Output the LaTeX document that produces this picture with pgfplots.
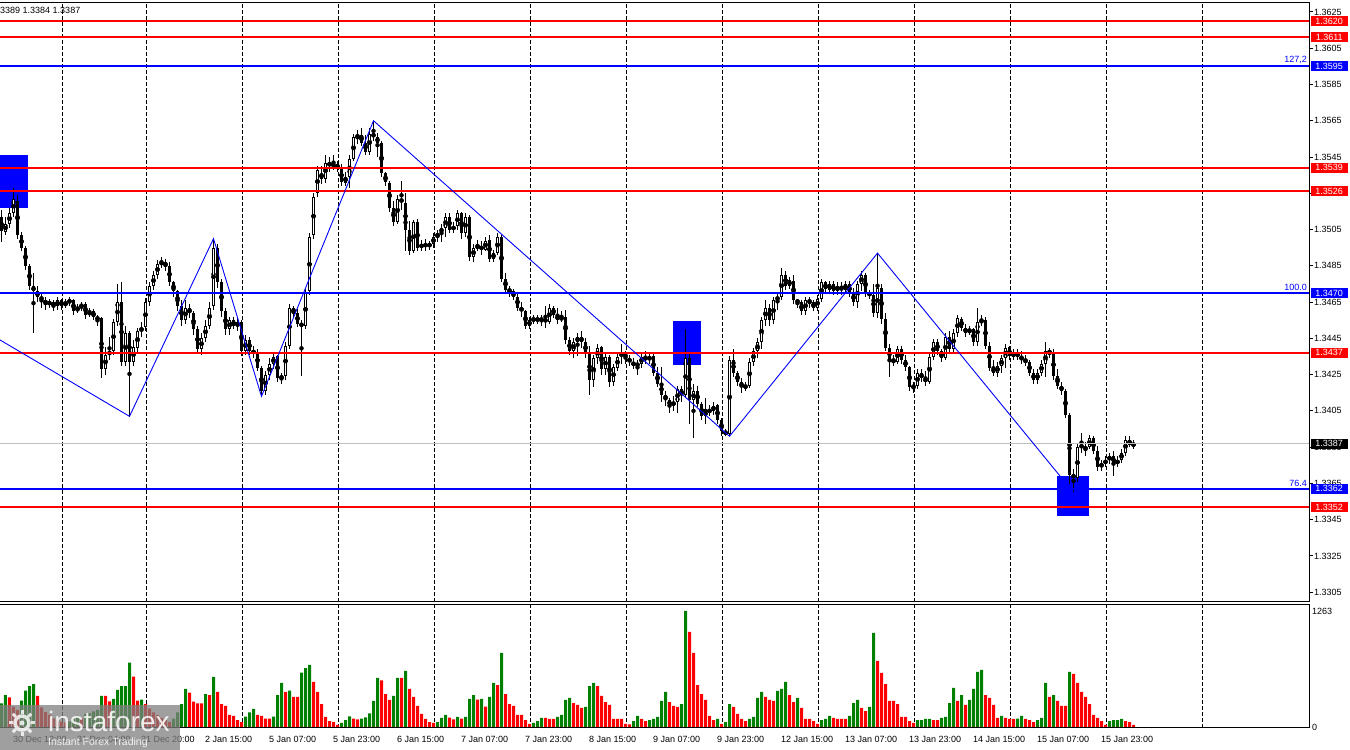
\documentclass[border=0pt]{standalone}
\usepackage{fontspec}
\setmainfont{Liberation Sans}
\usepackage{pgfplots}
\usepackage{pgfplotstable}
\pgfplotsset{compat=1.18}
\definecolor{mtred}{RGB}{255,0,0}
\definecolor{mtblue}{RGB}{0,0,255}
\definecolor{mtgreen}{RGB}{0,128,0}
\definecolor{mtgray}{RGB}{192,192,192}
\newcommand\lbl{\fontsize{9}{10}\selectfont}
\tikzset{pricetag/.style={fill=#1, text=white, font=\lbl, anchor=west, inner sep=0pt, minimum width=37pt, minimum height=10pt}}

% GBPUSD H1: open high low close, tick volume (+ rising = green, - falling = red)
\pgfplotstableread{
o h l c v
1.3512 1.3516 1.3498 1.3504 258
1.3504 1.3512 1.3502 1.3508 348
1.3508 1.3517 1.3506 1.3514 -323
1.3514 1.3528 1.3512 1.3522 -221
1.3521 1.3524 1.3500 1.3502 -185
1.3502 1.3504 1.3493 1.3495 287
1.3495 1.3496 1.3483 1.3485 396
1.3485 1.3486 1.3472 1.3474 446
1.3474 1.3481 1.3448 1.3471 468
1.3471 1.3474 1.3465 1.3468 -338
1.3468 1.3470 1.3462 1.3466 -214
1.3466 1.3468 1.3461 1.3464 -163
1.3464 1.3467 1.3462 1.3465 -131
1.3465 1.3466 1.3460 1.3463 -94
1.3463 1.3468 1.3461 1.3466 -76
1.3466 1.3467 1.3461 1.3463 -58
1.3463 1.3467 1.3462 1.3465 -50
1.3465 1.3468 1.3463 1.3466 60
1.3466 1.3467 1.3458 1.3460 90
1.3460 1.3464 1.3459 1.3462 120
1.3462 1.3465 1.3460 1.3464 -100
1.3464 1.3465 1.3456 1.3458 140
1.3458 1.3462 1.3457 1.3460 150
1.3460 1.3461 1.3455 1.3457 170
1.3457 1.3458 1.3452 1.3455 185
1.3456 1.3457 1.3423 1.3428 338
1.3428 1.3440 1.3425 1.3436 -338
1.3436 1.3446 1.3433 1.3438 -280
1.3438 1.3456 1.3436 1.3454 305
1.3454 1.3475 1.3452 1.3465 403
1.3465 1.3476 1.3430 1.3432 446
1.3432 1.3452 1.3430 1.3448 446
1.3448 1.3449 1.3402 1.3432 700
1.3432 1.3444 1.3430 1.3440 -548
1.3440 1.3451 1.3437 1.3449 -287
1.3449 1.3454 1.3446 1.3451 298
1.3451 1.3467 1.3449 1.3465 -250
1.3465 1.3476 1.3463 1.3474 -200
1.3474 1.3482 1.3472 1.3480 -160
1.3480 1.3488 1.3478 1.3486 -130
1.3486 1.3490 1.3484 1.3487 -100
1.3487 1.3489 1.3482 1.3485 -75
1.3485 1.3487 1.3474 1.3476 -55
1.3476 1.3477 1.3468 1.3471 90
1.3471 1.3472 1.3460 1.3463 160
1.3463 1.3466 1.3452 1.3455 250
1.3455 1.3466 1.3453 1.3462 414
1.3462 1.3464 1.3456 1.3459 -374
1.3459 1.3460 1.3447 1.3450 -276
1.3450 1.3452 1.3437 1.3439 -258
1.3439 1.3448 1.3436 1.3445 -258
1.3445 1.3455 1.3443 1.3452 359
1.3452 1.3465 1.3450 1.3462 -348
1.3463 1.3500 1.3461 1.3495 545
1.3495 1.3497 1.3473 1.3476 -381
1.3476 1.3478 1.3457 1.3460 -250
1.3460 1.3462 1.3447 1.3450 -229
1.3450 1.3457 1.3447 1.3455 -131
1.3455 1.3457 1.3450 1.3452 -120
1.3452 1.3456 1.3449 1.3454 -76
1.3454 1.3455 1.3435 1.3438 -54
1.3438 1.3447 1.3436 1.3444 113
1.3444 1.3446 1.3436 1.3438 160
1.3438 1.3441 1.3434 1.3437 196
1.3437 1.3439 1.3427 1.3429 -131
1.3429 1.3430 1.3413 1.3416 -120
1.3416 1.3427 1.3414 1.3425 -91
1.3425 1.3434 1.3422 1.3431 -91
1.3431 1.3437 1.3428 1.3435 113
1.3435 1.3436 1.3421 1.3423 348
1.3423 1.3426 1.3420 1.3424 479
1.3424 1.3443 1.3422 1.3441 -381
1.3441 1.3464 1.3439 1.3462 396
1.3462 1.3463 1.3456 1.3459 -327
1.3459 1.3461 1.3451 1.3453 -327
1.3453 1.3455 1.3424 1.3452 592
1.3452 1.3472 1.3450 1.3470 642
1.3471 1.3503 1.3469 1.3501 675
1.3502 1.3525 1.3500 1.3523 -490
1.3525 1.3540 1.3523 1.3538 -381
1.3536 1.3540 1.3530 1.3533 -250
1.3533 1.3546 1.3531 1.3542 -109
1.3542 1.3545 1.3537 1.3540 -65
1.3540 1.3546 1.3538 1.3541 -54
1.3541 1.3543 1.3537 1.3539 -22
1.3539 1.3541 1.3529 1.3531 44
1.3531 1.3537 1.3529 1.3534 76
1.3534 1.3546 1.3528 1.3544 116
1.3544 1.3558 1.3543 1.3556 -91
1.3556 1.3560 1.3552 1.3557 -83
1.3557 1.3561 1.3551 1.3553 91
1.3553 1.3557 1.3546 1.3548 105
1.3548 1.3561 1.3546 1.3558 149
1.3558 1.3565 1.3554 1.3556 283
1.3556 1.3558 1.3545 1.3553 534
1.3553 1.3554 1.3534 1.3536 -508
1.3536 1.3537 1.3529 1.3531 -359
1.3531 1.3532 1.3515 1.3517 -294
1.3517 1.3521 1.3507 1.3509 338
1.3509 1.3524 1.3508 1.3522 534
1.3522 1.3532 1.3516 1.3520 -534
1.3520 1.3525 1.3493 1.3505 610
1.3505 1.3510 1.3491 1.3493 -414
1.3493 1.3510 1.3492 1.3509 -327
1.3509 1.3511 1.3493 1.3495 -229
1.3495 1.3499 1.3493 1.3497 -142
1.3497 1.3500 1.3493 1.3496 -87
1.3496 1.3499 1.3494 1.3497 -54
1.3497 1.3503 1.3495 1.3501 -44
1.3501 1.3505 1.3498 1.3503 54
1.3503 1.3508 1.3498 1.3506 98
1.3506 1.3514 1.3501 1.3512 131
1.3512 1.3514 1.3503 1.3505 -102
1.3505 1.3509 1.3503 1.3507 -83
1.3507 1.3516 1.3505 1.3514 109
1.3514 1.3515 1.3500 1.3503 -91
1.3503 1.3514 1.3501 1.3512 109
1.3512 1.3513 1.3488 1.3490 305
1.3490 1.3497 1.3487 1.3495 348
1.3495 1.3499 1.3493 1.3496 -298
1.3496 1.3499 1.3491 1.3494 305
1.3494 1.3501 1.3493 1.3499 -221
1.3499 1.3502 1.3487 1.3489 327
1.3489 1.3494 1.3487 1.3492 479
1.3492 1.3503 1.3491 1.3501 -457
1.3501 1.3502 1.3476 1.3478 806
1.3478 1.3481 1.3470 1.3472 -359
1.3472 1.3474 1.3468 1.3471 -250
1.3471 1.3472 1.3466 1.3468 -229
1.3468 1.3470 1.3460 1.3462 -131
1.3462 1.3465 1.3457 1.3460 -131
1.3460 1.3461 1.3450 1.3452 -76
1.3452 1.3457 1.3450 1.3455 -33
1.3455 1.3458 1.3453 1.3456 44
1.3456 1.3458 1.3453 1.3455 65
1.3455 1.3458 1.3452 1.3456 98
1.3456 1.3463 1.3451 1.3454 -98
1.3454 1.3464 1.3453 1.3462 -87
1.3462 1.3463 1.3456 1.3458 -87
1.3458 1.3462 1.3453 1.3455 109
1.3455 1.3460 1.3454 1.3457 131
1.3457 1.3461 1.3442 1.3444 294
1.3444 1.3446 1.3436 1.3438 316
1.3438 1.3445 1.3434 1.3443 -261
1.3443 1.3448 1.3435 1.3446 -240
1.3446 1.3449 1.3440 1.3443 -207
1.3443 1.3445 1.3434 1.3437 218
1.3437 1.3441 1.3414 1.3422 446
1.3422 1.3436 1.3418 1.3434 479
1.3434 1.3442 1.3431 1.3440 -446
1.3440 1.3441 1.3425 1.3428 -338
1.3428 1.3437 1.3425 1.3435 -272
1.3435 1.3436 1.3418 1.3421 -240
1.3421 1.3431 1.3419 1.3429 -87
1.3429 1.3437 1.3427 1.3435 -87
1.3435 1.3442 1.3431 1.3437 -87
1.3437 1.3438 1.3431 1.3434 -33
1.3434 1.3436 1.3430 1.3432 -29
1.3432 1.3434 1.3428 1.3430 65
1.3430 1.3433 1.3425 1.3431 120
1.3431 1.3437 1.3429 1.3435 -87
1.3435 1.3438 1.3431 1.3433 -65
1.3433 1.3437 1.3431 1.3435 76
1.3435 1.3437 1.3424 1.3426 87
1.3426 1.3429 1.3418 1.3420 109
1.3420 1.3429 1.3410 1.3414 283
1.3414 1.3416 1.3408 1.3411 381
1.3411 1.3412 1.3404 1.3408 -272
1.3408 1.3413 1.3405 1.3410 -229
1.3410 1.3419 1.3404 1.3417 -218
1.3417 1.3419 1.3410 1.3414 250
1.3414 1.3450 1.3412 1.3434 1263
1.3434 1.3437 1.3398 1.3411 -1035
1.3411 1.3420 1.3390 1.3416 -806
1.3416 1.3419 1.3407 1.3409 -457
1.3409 1.3410 1.3400 1.3402 -359
1.3402 1.3412 1.3398 1.3405 -294
1.3405 1.3408 1.3402 1.3405 -120
1.3405 1.3410 1.3403 1.3408 -76
1.3408 1.3409 1.3398 1.3400 87
1.3400 1.3401 1.3391 1.3394 -33
1.3394 1.3395 1.3391 1.3392 54
1.3392 1.3435 1.3391 1.3433 250
1.3433 1.3439 1.3424 1.3426 -218
1.3426 1.3427 1.3419 1.3421 -142
1.3421 1.3423 1.3415 1.3418 -87
1.3418 1.3421 1.3416 1.3419 -65
1.3419 1.3434 1.3418 1.3432 87
1.3432 1.3440 1.3430 1.3438 109
1.3438 1.3445 1.3434 1.3443 316
1.3443 1.3457 1.3439 1.3455 381
1.3455 1.3466 1.3452 1.3462 -327
1.3462 1.3464 1.3452 1.3455 -294
1.3455 1.3468 1.3453 1.3466 -283
1.3466 1.3470 1.3461 1.3468 392
1.3468 1.3484 1.3466 1.3480 414
1.3480 1.3482 1.3472 1.3474 490
1.3474 1.3479 1.3472 1.3477 -348
1.3477 1.3480 1.3464 1.3466 -272
1.3466 1.3467 1.3462 1.3465 316
1.3465 1.3466 1.3458 1.3460 -207
1.3460 1.3468 1.3458 1.3466 -87
1.3466 1.3468 1.3462 1.3465 -87
1.3465 1.3466 1.3460 1.3462 -65
1.3462 1.3469 1.3460 1.3467 -33
1.3467 1.3478 1.3465 1.3476 76
1.3476 1.3477 1.3470 1.3472 87
1.3472 1.3477 1.3470 1.3475 120
1.3475 1.3477 1.3469 1.3471 -98
1.3471 1.3476 1.3469 1.3474 -87
1.3474 1.3476 1.3469 1.3472 -87
1.3472 1.3477 1.3470 1.3475 -87
1.3475 1.3477 1.3468 1.3470 120
1.3470 1.3473 1.3463 1.3465 261
1.3465 1.3477 1.3462 1.3475 294
1.3475 1.3482 1.3471 1.3480 -207
1.3480 1.3481 1.3468 1.3470 -174
1.3470 1.3472 1.3467 1.3469 218
1.3469 1.3475 1.3457 1.3459 1024
1.3459 1.3492 1.3456 1.3473 -719
1.3473 1.3475 1.3453 1.3456 -588
1.3456 1.3459 1.3438 1.3440 -468
1.3440 1.3442 1.3424 1.3433 -283
1.3433 1.3436 1.3430 1.3432 -283
1.3432 1.3441 1.3431 1.3439 -250
1.3439 1.3441 1.3431 1.3433 -109
1.3433 1.3436 1.3427 1.3429 -109
1.3429 1.3430 1.3416 1.3418 -65
1.3418 1.3421 1.3415 1.3419 -44
1.3419 1.3428 1.3417 1.3426 76
1.3426 1.3428 1.3421 1.3423 76
1.3423 1.3427 1.3419 1.3421 87
1.3421 1.3437 1.3420 1.3435 87
1.3435 1.3445 1.3433 1.3443 -76
1.3443 1.3445 1.3436 1.3438 -76
1.3438 1.3439 1.3432 1.3434 98
1.3434 1.3448 1.3433 1.3446 109
1.3446 1.3449 1.3437 1.3439 261
1.3439 1.3450 1.3437 1.3448 425
1.3448 1.3458 1.3446 1.3456 -283
1.3456 1.3457 1.3449 1.3451 348
1.3451 1.3453 1.3446 1.3448 -240
1.3448 1.3452 1.3447 1.3450 294
1.3450 1.3451 1.3441 1.3443 414
1.3443 1.3462 1.3441 1.3454 599
1.3454 1.3458 1.3452 1.3455 621
1.3455 1.3457 1.3439 1.3441 -348
1.3441 1.3443 1.3427 1.3429 -316
1.3429 1.3433 1.3424 1.3426 -240
1.3426 1.3432 1.3424 1.3430 -98
1.3430 1.3436 1.3426 1.3434 120
1.3434 1.3442 1.3429 1.3440 -98
1.3440 1.3441 1.3433 1.3435 -87
1.3435 1.3439 1.3433 1.3437 -87
1.3437 1.3439 1.3433 1.3435 90
1.3435 1.3438 1.3431 1.3433 120
1.3433 1.3436 1.3430 1.3432 -87
1.3432 1.3433 1.3424 1.3426 -76
1.3426 1.3428 1.3420 1.3422 -54
1.3422 1.3428 1.3420 1.3426 76
1.3426 1.3433 1.3424 1.3431 98
1.3431 1.3443 1.3424 1.3438 479
1.3438 1.3440 1.3434 1.3437 -327
1.3437 1.3439 1.3422 1.3424 348
1.3424 1.3428 1.3417 1.3419 -283
1.3419 1.3421 1.3414 1.3416 -229
1.3416 1.3417 1.3401 1.3403 -229
1.3403 1.3404 1.3365 1.3370 599
1.3370 1.3373 1.3360 1.3368 -577
1.3368 1.3387 1.3366 1.3385 -479
1.3385 1.3393 1.3382 1.3386 -381
1.3384 1.3388 1.3380 1.3385 -327
1.3385 1.3392 1.3384 1.3390 -250
1.3390 1.3391 1.3381 1.3383 -131
1.3383 1.3386 1.3372 1.3374 -98
1.3374 1.3378 1.3372 1.3376 -65
1.3376 1.3380 1.3374 1.3378 -22
1.3378 1.3382 1.3376 1.3380 65
1.3380 1.3383 1.3369 1.3376 76
1.3376 1.3380 1.3374 1.3378 76
1.3378 1.3384 1.3376 1.3382 87
1.3382 1.3391 1.3380 1.3389 -65
1.3389 1.3391 1.3385 1.3386 -54
1.3386 1.3389 1.3384 1.3387 -22
}\bars

\begin{document}
\begin{tikzpicture}[x=1pt,y=1pt]
\path[use as bounding box] (0,0) rectangle (1350,750);
\clip (0,0) rectangle (1350,750);
\fill[white] (0,0) rectangle (1350,750);

% price panel, y in pips above 1.3000
\begin{axis}[
  at={(-3pt,148pt)}, anchor=south west, scale only axis,
  width=1312pt, height=599pt,
  xmin=-3, xmax=1309, ymin=299.62, ymax=629.93,
  clip mode=individual,
  axis line style={black, line width=1pt},
  xtick={62.5,146.5,242.5,338.5,434.5,530.5,626.5,722.5,818.5,914.5,1010.5,1106.5,1202.5},
  xticklabels={}, xmajorgrids, major x tick style={draw=none},
  major grid style={black, line width=1pt, dash pattern=on 3.5pt off 2.5pt},
  ytick={305,325,345,365,385,405,425,445,465,485,505,525,545,565,585,605,625},
  yticklabels={1.3305,1.3325,1.3345,1.3365,1.3385,1.3405,1.3425,1.3445,1.3465,1.3485,1.3505,1.3525,1.3545,1.3565,1.3585,1.3605,1.3625},
  ytick pos=right, yticklabel pos=right, tick align=outside,
  major tick length=4pt, major y tick style={black, line width=1pt},
  yticklabel style={font=\lbl, anchor=west, inner sep=1pt},
]
% signal boxes
\addplot[fill=mtblue, draw=none] coordinates {(-3,546.1)(28,546.1)(28,516.9)(-3,516.9)};
\addplot[fill=mtblue, draw=none] coordinates {(673,454.6)(701,454.6)(701,430.3)(673,430.3)};
\addplot[fill=mtblue, draw=none] coordinates {(1057,369.1)(1089,369.1)(1089,347.0)(1057,347.0)};
% wicks
\addplot[only marks, mark=none, error bars/.cd, y dir=both, y explicit, error mark=none,
  error bar style={black, line width=1pt}]
  table[x expr=\coordindex*4+1.5, y expr=((\thisrow{h}+\thisrow{l})/2-1.3)*10000,
        y error expr=(\thisrow{h}-\thisrow{l})*5000]{\bars};
% bodies
\addplot[only marks, mark=none, error bars/.cd, y dir=both, y explicit, error mark=none,
  error bar style={black, line width=3pt}]
  table[x expr=\coordindex*4+1.5, y expr=((\thisrow{o}+\thisrow{c})/2-1.3)*10000,
        y error expr={max(abs(\thisrow{c}-\thisrow{o})*5000,0.276)}]{\bars};
% hollow bullish bodies
\addplot[only marks, mark=none, error bars/.cd, y dir=both, y explicit, error mark=none,
  error bar style={white, line width=1pt}]
  table[x expr=\coordindex*4+1.5, y expr=((\thisrow{o}+\thisrow{c})/2-1.3)*10000,
        y error expr={max((\thisrow{c}-\thisrow{o})*5000-0.551,0)}]{\bars};
% levels
\addplot[mtred, line width=1.5pt] coordinates {(-3,620)(1309,620)};
\addplot[mtred, line width=2pt] coordinates {(-3,611)(1309,611)};
\addplot[mtblue, line width=2.2pt] coordinates {(-3,595)(1309,595)};
\addplot[mtred, line width=1.5pt] coordinates {(-3,539)(1309,539)};
\addplot[mtred, line width=2pt] coordinates {(-3,526)(1309,526)};
\addplot[mtblue, line width=1.5pt] coordinates {(-3,470)(1309,470)};
\addplot[mtred, line width=1.5pt] coordinates {(-3,437)(1309,437)};
\addplot[mtgray, line width=1.3pt] coordinates {(-3,387)(1309,387)};
\addplot[mtblue, line width=2.2pt] coordinates {(-3,362)(1309,362)};
\addplot[mtred, line width=1.5pt] coordinates {(-3,352)(1309,352)};
% zigzag
\addplot[mtblue, line width=0.9pt] coordinates {(-3,445.1)(129.5,402)(213.5,500)(261.5,413)(373.5,565)(729.5,391)(877.5,492)(1073.5,360)};
% fibo captions
\node[text=mtblue, font=\lbl, anchor=south east, inner sep=1pt] at (axis cs:1308,595.8) {127,2};
\node[text=mtblue, font=\lbl, anchor=south east, inner sep=1pt] at (axis cs:1308,470.5) {100.0};
\node[text=mtblue, font=\lbl, anchor=south east, inner sep=1pt] at (axis cs:1308,362.8) {76.4};
% price labels on the scale
\node[pricetag=mtred] at (axis cs:1310.5,620) {1.3620};
\node[pricetag=mtred] at (axis cs:1310.5,611) {1.3611};
\node[pricetag=mtblue] at (axis cs:1310.5,595) {1.3595};
\node[pricetag=mtred] at (axis cs:1310.5,539) {1.3539};
\node[pricetag=mtred] at (axis cs:1310.5,526) {1.3526};
\node[pricetag=mtblue] at (axis cs:1310.5,470) {1.3470};
\node[pricetag=mtred] at (axis cs:1310.5,437) {1.3437};
\node[pricetag=black] at (axis cs:1310.5,387) {1.3387};
\node[pricetag=mtblue] at (axis cs:1310.5,362) {1.3362};
\node[pricetag=mtred] at (axis cs:1310.5,352) {1.3352};
\end{axis}

% volume panel
\begin{axis}[
  at={(-3pt,22pt)}, anchor=south west, scale only axis,
  width=1312pt, height=124pt,
  xmin=-3, xmax=1309, ymin=-11, ymax=1339,
  axis line style={black, line width=1pt},
  xtick={62.5,146.5,242.5,338.5,434.5,530.5,626.5,722.5,818.5,914.5,1010.5,1106.5,1202.5},
  xticklabels={}, xmajorgrids, major x tick style={draw=none},
  major grid style={black, line width=1pt, dash pattern=on 3.5pt off 2.5pt},
  extra x ticks={13,77,141,205,269,333,397,461,525,589,653,717,781,845,909,973,1037,1101},
  extra x tick labels={30 Dec 12:00,31 Dec 04:00,31 Dec 20:00,2 Jan 15:00,5 Jan 07:00,5 Jan 23:00,6 Jan 15:00,7 Jan 07:00,7 Jan 23:00,8 Jan 15:00,9 Jan 07:00,9 Jan 23:00,12 Jan 15:00,13 Jan 07:00,13 Jan 23:00,14 Jan 15:00,15 Jan 07:00,15 Jan 23:00},
  extra x tick style={grid=none, major tick length=0pt},
  xticklabel style={font=\lbl, anchor=base west, inner sep=0pt, yshift=-14pt},
  ytick={0,1263}, yticklabels={0,1263},
  ytick pos=right, yticklabel pos=right, major tick length=0pt,
  yticklabel style={font=\lbl, anchor=west, inner sep=3pt},
]
\addplot[ybar, bar width=3pt, bar shift=0pt, fill=mtgreen, draw=none]
  table[x expr=\coordindex*4+1.5, y expr={max(\thisrow{v},0)}]{\bars};
\addplot[ybar, bar width=3pt, bar shift=0pt, fill=mtred, draw=none]
  table[x expr=\coordindex*4+1.5, y expr={max(-\thisrow{v},0)}]{\bars};
\end{axis}

% header text and watermark
\node[anchor=west, font=\lbl, inner sep=0pt] at (-7.5,740) {1.3389 1.3384 1.3387};
\fill[gray, opacity=0.75] (0,0) rectangle (180,45);
\begin{scope}[white, opacity=0.8]
  \draw[line width=3.5pt] (22,27) circle (7);
  \foreach \a in {0,45,...,315} \draw[line width=3pt] (22,27) ++(\a:9) -- ++(\a:4);
  \fill (22,27) circle (2.5);
\end{scope}
\node[anchor=base west, text=white, opacity=0.85, font=\fontsize{28}{28}\selectfont, inner sep=0pt] at (48,19) {instaforex};
\node[anchor=base west, text=white, opacity=0.85, font=\fontsize{10.5}{11}\selectfont, inner sep=0pt] at (48,5) {Instant Forex Trading};
\end{tikzpicture}
\end{document}
